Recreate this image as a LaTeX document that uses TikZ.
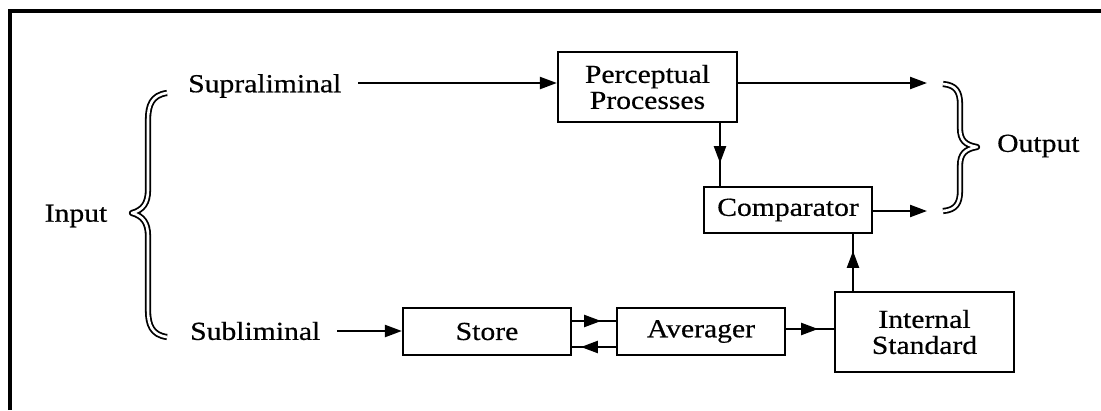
\documentclass[tikz,border=0pt]{standalone}
\usepackage{fontspec}
\setmainfont{Liberation Serif}[FakeStretch=1.14,FakeBold=0.5]
\usetikzlibrary{arrows.meta,decorations.markings,calc}
\tikzset{
  box/.style={draw,line width=2.2pt,minimum width=#1,inner sep=0pt,align=center,font=\fontsize{26}{28}\selectfont},
  lbl/.style={inner sep=0pt,font=\fontsize{26}{28}\selectfont},
  conn/.style={line width=2.2pt},
  tip/.style={-{Triangle[length=17pt,width=12pt]}},
  midarr/.style={postaction={decorate,decoration={markings,mark=at position #1 with {\arrow{Triangle[length=17pt,width=12pt]}}}}},
  bracestyle/.style={line width=1.8pt,double=white,double distance=2.6pt,line join=round},
}
\begin{document}
\begin{tikzpicture}[x=1pt,y=-1pt]
\useasboundingbox (0,0) rectangle (1101,410);
% frame
\draw[line width=3.5pt] (10,410) -- (10,11) -- (1101,11);
% boxes
\node[box=179pt,minimum height=70pt] (pp) at (647.5,87) {Perceptual\\[-2pt]Processes};
\node[box=168pt,minimum height=46pt] (comp) at (788,210) {Comparator};
\node[box=168pt,minimum height=47pt] (store) at (487,331.5) {Store};
\node[box=168pt,minimum height=47pt] (avg) at (701,331.5) {Averager};
\node[box=179pt,minimum height=80pt] (is) at (924.5,332) {Internal\\[-2pt]Standard};
% labels
\node[lbl,anchor=west] (sup) at (188,86) {Supraliminal};
\node[lbl,anchor=west] (sub) at (190,331) {Subliminal};
\node[lbl] (inp) at (76,216) {Input};
\node[lbl,anchor=west] (outp) at (997,146) {Output};
% output ends
\coordinate (o1) at (927,83);
\coordinate (o2) at (927,211);
% connectors
\draw[conn,tip] (358,83) -- (pp.west |- 0,83);
\draw[conn,tip] (pp.east |- o1) -- (o1);
\draw[conn,tip] (comp.east |- o2) -- (o2);
\draw[conn,midarr=40pt] (pp.south -| 720,0) -- (comp.north -| 720,0);
\draw[conn,midarr=40pt] (is.north -| 853,0) -- (comp.south -| 853,0);
\draw[conn,tip] (337,331) -- (store.west |- 0,331);
\draw[conn,midarr=29pt] (store.east |- 0,321) -- (avg.west |- 0,321);
\draw[conn,midarr=35pt] (avg.west |- 0,347) -- (store.east |- 0,347);
\draw[conn,midarr=32pt] (avg.east |- 0,329) -- (is.west |- 0,329);
% braces
\draw[bracestyle] (167,93) .. controls (152,95) and (148,105) .. (148,120)
  -- (148,190) .. controls (148,203) and (143,210) .. (132,213)
  .. controls (143,216) and (148,223) .. (148,236)
  -- (148,310) .. controls (148,325) and (152,335) .. (167,337);
\draw[bracestyle] (943,84) .. controls (956,85) and (960,92) .. (960,104)
  -- (960,128) .. controls (960,140) and (965,145) .. (977,147)
  .. controls (965,149) and (960,154) .. (960,166)
  -- (960,191) .. controls (960,203) and (956,210) .. (943,211);
\end{tikzpicture}
\end{document}
